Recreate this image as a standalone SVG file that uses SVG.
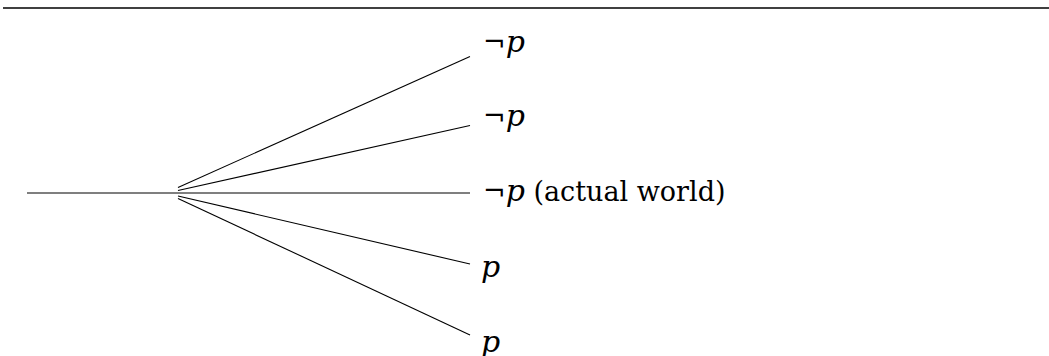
<svg xmlns="http://www.w3.org/2000/svg" width="1049" height="356" viewBox="0 0 1049 356">
<style>
.ln{stroke:#000;stroke-width:1.1;fill:none}
.t{font-family:"DejaVu Serif","Liberation Serif",serif;font-size:27px;fill:#000}
.i{font-style:italic;font-size:30px}
</style>
<rect width="1049" height="356" fill="#fff"/>
<line x1="3" y1="8" x2="1049" y2="8" stroke="#000" stroke-width="1.5"/>
<g id="connectors">
<line class="ln" x1="27" y1="193" x2="178" y2="193"/>
<line class="ln" x1="178" y1="187.5" x2="470" y2="56.5"/>
<line class="ln" x1="178" y1="190.5" x2="470" y2="125.5"/>
<line class="ln" x1="178" y1="193" x2="470" y2="193"/>
<line class="ln" x1="178" y1="196" x2="470" y2="264"/>
<line class="ln" x1="178" y1="198.5" x2="470" y2="335"/>
</g>
<g id="n1"><text class="t" x="483" y="52">¬<tspan class="i">p</tspan></text></g>
<g id="n2"><text class="t" x="483" y="126">¬<tspan class="i">p</tspan></text></g>
<g id="n3"><text class="t" x="483" y="201">¬<tspan class="i">p</tspan> (actual world)</text></g>
<g id="n4"><text class="t" x="481" y="277"><tspan class="i">p</tspan></text></g>
<g id="n5"><text class="t" x="481" y="352"><tspan class="i">p</tspan></text></g>
</svg>
